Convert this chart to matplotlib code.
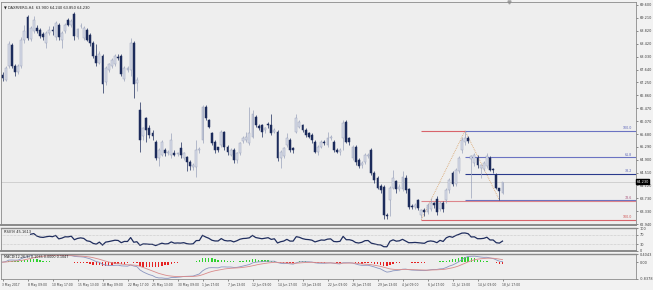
import numpy as np
import pandas as pd
import matplotlib
matplotlib.use("Agg")
import matplotlib.pyplot as plt
import matplotlib.transforms as mtransforms

# ---- data (H4 bars, 3 May 2017 13:00 .. 18 Jul 2017 17:00)
title = "\u25bc DAXM/ERG,H4  63.900 64.240 63.850 64.230"
rsi_title = "RSI(9) 45.1613"
macd_title = "MACD(12,26,9) 0.1035 0.0000 0.1047"

opens = [67.47, 67.32, 67.75, 68.39, 67.75, 67.57, 67.75, 68.55, 69.22, 68.57,
         68.80, 68.90, 68.84, 68.72, 68.45, 68.75, 68.85, 68.62, 69.00, 68.55,
         68.80, 69.14, 68.99, 69.33, 68.62, 68.95, 68.60, 68.85, 68.70, 68.45,
         68.05, 67.85, 68.05, 67.25, 67.62, 67.75, 67.80, 68.02, 68.05, 67.35,
         67.62, 67.62, 68.44, 67.22, 66.41, 65.62, 66.17, 65.86, 65.72, 65.44,
         64.95, 65.04, 65.20, 65.10, 65.04, 65.12, 65.08, 65.26, 64.95, 64.98,
         64.83, 64.68, 64.68, 65.20, 65.50, 66.50, 66.11, 65.71, 65.44, 65.28,
         65.35, 65.74, 65.30, 65.06, 65.20, 64.89, 65.10, 65.47, 65.50, 65.41,
         65.60, 66.20, 65.92, 65.96, 65.80, 66.00, 65.96, 65.75, 65.74, 64.95,
         65.00, 65.35, 65.50, 65.26, 65.74, 65.90, 65.96, 65.80, 65.70, 65.65,
         65.44, 65.14, 65.29, 65.44, 65.35, 65.56, 65.44, 65.20, 65.15, 65.56,
         66.05, 65.56, 64.95, 65.28, 64.89, 64.74, 64.83, 65.02, 65.20, 64.50,
         64.35, 64.10, 64.07, 63.22, 63.68, 64.04, 64.25, 64.00, 64.00, 64.35,
         64.00, 63.50, 63.48, 63.68, 63.22, 63.38, 63.30, 63.40, 63.58, 63.70,
         63.40, 63.58, 63.68, 63.98, 64.51, 64.17, 64.55, 65.20, 65.44, 65.56,
         64.92, 64.80, 64.95, 64.65, 64.62, 64.70, 64.95, 64.62, 64.44, 64.05,
         63.90]
highs = [67.55, 67.75, 68.50, 68.45, 67.80, 67.80, 68.62, 69.00, 69.30, 68.95,
         69.25, 69.00, 68.90, 68.78, 68.80, 68.95, 68.95, 69.12, 69.05, 68.80,
         69.05, 69.20, 69.18, 69.40, 68.90, 69.05, 68.95, 68.90, 68.75, 68.52,
         68.40, 68.20, 68.12, 67.75, 67.85, 68.00, 68.10, 68.10, 68.10, 67.75,
         67.75, 68.60, 68.50, 67.40, 66.65, 65.90, 66.20, 65.95, 65.80, 65.50,
         65.25, 65.50, 65.25, 65.20, 65.72, 65.20, 65.15, 65.44, 65.15, 65.00,
         64.90, 64.80, 65.50, 65.28, 66.55, 66.55, 66.15, 65.75, 65.50, 65.30,
         65.80, 65.78, 65.35, 65.25, 65.25, 65.15, 65.45, 65.62, 65.75, 66.50,
         66.40, 66.25, 66.00, 66.00, 65.90, 66.05, 66.30, 65.85, 65.80, 65.20,
         65.30, 65.70, 65.55, 65.30, 66.30, 66.10, 66.00, 65.85, 65.75, 65.70,
         65.50, 65.35, 65.50, 65.50, 65.75, 65.65, 65.50, 65.25, 65.25, 66.10,
         66.10, 65.60, 65.35, 65.35, 64.95, 64.85, 65.10, 65.10, 65.25, 64.55,
         64.40, 64.15, 64.12, 63.28, 64.10, 64.60, 64.30, 64.15, 64.55, 64.45,
         64.05, 63.55, 63.58, 63.72, 63.42, 63.45, 63.60, 63.75, 63.62, 63.80,
         63.65, 63.65, 64.05, 64.35, 64.55, 64.65, 65.00, 65.60, 65.78, 65.62,
         65.05, 65.10, 65.05, 64.75, 64.85, 65.10, 65.00, 64.65, 64.50, 64.05,
         64.24]
lows = [67.30, 67.28, 67.70, 67.70, 67.45, 67.50, 67.70, 68.45, 68.55, 68.50,
        68.75, 68.75, 68.60, 68.55, 68.30, 68.70, 68.70, 68.55, 68.55, 68.30,
        68.75, 68.95, 68.92, 68.55, 68.58, 68.90, 68.55, 68.50, 68.35, 68.00,
        67.75, 67.80, 66.93, 67.18, 67.55, 67.70, 67.75, 67.92, 67.45, 67.30,
        67.55, 67.45, 66.78, 67.00, 65.14, 65.50, 65.45, 65.55, 65.50, 64.90,
        64.70, 65.00, 65.00, 65.05, 64.95, 65.00, 65.00, 64.95, 64.90, 64.55,
        64.60, 64.60, 64.38, 65.10, 65.40, 66.10, 65.85, 65.35, 65.10, 65.15,
        65.30, 65.20, 65.05, 65.00, 64.80, 64.80, 65.05, 65.40, 65.45, 65.35,
        65.55, 65.90, 65.80, 65.60, 65.70, 65.85, 65.65, 65.70, 64.85, 64.65,
        64.95, 65.30, 65.15, 65.10, 65.70, 65.85, 65.75, 65.60, 65.55, 65.40,
        65.10, 65.05, 65.25, 65.35, 65.30, 65.50, 65.15, 65.10, 65.05, 65.20,
        65.40, 65.35, 64.90, 64.75, 64.65, 64.65, 64.78, 64.95, 64.45, 64.20,
        64.00, 63.90, 63.10, 63.10, 63.20, 64.00, 63.90, 63.95, 63.95, 63.90,
        63.40, 63.40, 63.42, 63.38, 63.12, 63.20, 63.25, 63.35, 63.45, 63.22,
        63.35, 63.32, 63.60, 63.90, 64.10, 64.10, 64.50, 65.10, 65.35, 65.40,
        63.74, 64.70, 64.65, 64.35, 64.55, 64.65, 64.55, 64.50, 64.00, 63.68,
        63.85]
closes = [67.38, 67.69, 68.40, 67.75, 67.57, 67.75, 68.55, 68.80, 68.60, 68.90,
          69.14, 68.82, 68.66, 68.62, 68.75, 68.85, 68.80, 69.05, 68.62, 68.75,
          69.00, 68.99, 69.12, 68.66, 68.87, 68.97, 68.90, 68.55, 68.45, 68.05,
          67.85, 68.10, 67.20, 67.70, 67.80, 67.93, 68.05, 68.00, 67.50, 67.70,
          67.68, 68.44, 67.20, 67.32, 65.50, 65.86, 65.80, 65.65, 65.63, 64.95,
          65.20, 65.44, 65.10, 65.15, 65.50, 65.06, 65.10, 65.05, 65.12, 64.83,
          64.70, 64.74, 65.20, 65.22, 66.50, 66.17, 65.90, 65.41, 65.20, 65.20,
          65.74, 65.29, 65.15, 65.20, 64.89, 65.10, 65.41, 65.56, 65.60, 65.70,
          66.30, 65.96, 65.86, 65.75, 65.85, 65.95, 65.70, 65.80, 64.95, 65.15,
          65.26, 65.56, 65.20, 65.20, 66.17, 66.05, 65.80, 65.65, 65.60, 65.50,
          65.14, 65.29, 65.44, 65.40, 65.56, 65.60, 65.20, 65.15, 65.20, 66.02,
          65.44, 65.44, 65.28, 64.83, 64.70, 64.80, 65.04, 65.06, 64.50, 64.29,
          64.05, 63.98, 63.22, 63.18, 64.04, 64.35, 64.00, 64.07, 64.38, 63.98,
          63.47, 63.48, 63.52, 63.45, 63.38, 63.30, 63.53, 63.60, 63.52, 63.30,
          63.58, 63.40, 63.98, 64.29, 64.17, 64.59, 64.95, 65.50, 65.56, 65.47,
          65.00, 65.04, 64.74, 64.74, 64.80, 65.00, 64.59, 64.59, 64.05, 63.95,
          64.23]

bid = 64.230
price_ticks = ["69.600", "69.210", "68.820", "68.420", "68.030", "67.640", "67.250",
               "66.860", "66.470", "66.070", "65.680", "65.290", "64.900", "64.510",
               "64.120", "63.730", "63.330", "62.940"]
rsi_ticks = ["100", "70", "30", "0"]
rsi_levels = [70, 30]
macd_ticks = ["0.4043", "0.00", "-0.8378"]
time_labels = ["3 May 2017", "8 May 09:00", "10 May 17:00", "15 May 13:00", "18 May 09:00",
               "22 May 17:00", "25 May 13:00", "30 May 09:00", "1 Jun 17:00", "7 Jun 13:00",
               "12 Jun 09:00", "14 Jun 17:00", "19 Jun 13:00", "22 Jun 09:00", "26 Jun 17:00",
               "29 Jun 13:00", "4 Jul 09:00", "6 Jul 17:00", "11 Jul 13:00", "14 Jul 09:00",
               "18 Jul 17:00"]
label_step = 8

# fibonacci objects: (bar, price) anchors
fib_red = ((134, 63.08), (148, 65.78))
fib_red_levels = [0.0, 78.6, 100.0]
fib_red_text = {78.6: "78.6", 100.0: "100.0"}
fib_blue = ((148, 65.78), (159, 63.68))
fib_blue_levels = [100.0, 61.8, 38.2, 0.0]
fib_blue_text = {100.0: "100.0", 61.8: "61.8", 38.2: "38.2"}

# ---- indicators
close_s = pd.Series(closes)
delta = close_s.diff()
gain = delta.clip(lower=0)
loss = -delta.clip(upper=0)
avg_gain = gain.ewm(alpha=1 / 9, adjust=True, min_periods=9).mean()
avg_loss = loss.ewm(alpha=1 / 9, adjust=True, min_periods=9).mean()
rsi = 100 - 100 / (1 + avg_gain / avg_loss)

ema_fast = close_s.ewm(span=12, adjust=False).mean()
ema_slow = close_s.ewm(span=26, adjust=False).mean()
macd = ema_fast - ema_slow
signal = macd.ewm(span=9, adjust=False).mean()
hist = macd - signal

# ---- layout (pixel boxes of the MT4 window)
W, H = 653, 290
BAR_PX = 3.125
FIRST_BAR_PX = 2.5


def box(x0, y0, x1, y1):
    return [x0 / W, 1 - y1 / H, (x1 - x0) / W, (y1 - y0) / H]


BG = "#eeeeee"
SPINE = "#8a8a8a"
TXT = "#3c3c3c"
FS = 2.5
BULL_FACE, BULL_EDGE = "#d9dde8", "#9aa2bb"
BEAR = "#1c2b5b"

fig = plt.figure(figsize=(W / 100, H / 100), dpi=100, facecolor="#f2f2f2")
ax = fig.add_axes(box(1, 2, 636, 225))
ax_rsi = fig.add_axes(box(1, 228, 636, 251), sharex=ax)
ax_macd = fig.add_axes(box(1, 254, 636, 279), sharex=ax)

x_left = (1 - FIRST_BAR_PX) / BAR_PX
x_right = (636 - FIRST_BAR_PX) / BAR_PX

for a in (ax, ax_rsi, ax_macd):
    a.set_facecolor(BG)
    for s in a.spines.values():
        s.set_color(SPINE)
        s.set_linewidth(0.6)
    a.yaxis.tick_right()
    a.tick_params(axis="y", length=1.5, width=0.4, pad=1, labelsize=FS,
                  colors=TXT, direction="out")
    a.tick_params(axis="x", bottom=False, labelbottom=False)
ax.spines["bottom"].set_linewidth(1.4)
ax_rsi.spines["bottom"].set_linewidth(1.4)
ax_rsi.spines["top"].set_linewidth(1.0)
ax_macd.spines["top"].set_linewidth(1.0)

# ---- candles
x = np.arange(len(closes))
o = np.array(opens)
h = np.array(highs)
l = np.array(lows)
c = np.array(closes)
up = c >= o
ax.vlines(x[up], l[up], h[up], color=BULL_EDGE, lw=0.5, zorder=3)
ax.vlines(x[~up], l[~up], h[~up], color=BEAR, lw=0.5, zorder=3)
body_lo = np.minimum(o, c)
body_h = np.maximum(np.abs(c - o), 0.012)
ax.bar(x[up], body_h[up], bottom=body_lo[up], width=0.62,
       color=BULL_FACE, edgecolor=BULL_EDGE, linewidth=0.35, zorder=4)
ax.bar(x[~up], body_h[~up], bottom=body_lo[~up], width=0.62,
       color=BEAR, edgecolor=BEAR, linewidth=0.35, zorder=4)

ax.set_xlim(x_left, x_right)
ax.set_ylim(62.92, 69.69)
ax.set_yticks([float(t) for t in price_ticks])
ax.set_yticklabels(price_ticks)

# bid line and box
ax.axhline(bid, color="#c4c4c4", lw=0.5, zorder=1)
ax.text(1.001, bid, f"{bid:.3f}", transform=ax.get_yaxis_transform(),
        fontsize=FS, color="white", va="center", ha="left",
        bbox=dict(boxstyle="square,pad=0.12", fc="black", ec="black"))

# fibonacci retracements
(b0x, b0y), (b1x, b1y) = fib_blue
rng = b0y - b1y
for lv in fib_blue_levels:
    yv = b1y + rng * lv / 100.0
    col = "#2a3a8c" if lv == 38.2 else "#6b73c2"
    ax.hlines(yv, b0x, x_right, color=col, lw=0.8, zorder=2.2)
    if lv in fib_blue_text:
        ax.text(x_right - 1.2, yv + 0.02, fib_blue_text[lv], fontsize=2.3,
                color="#5a63b8", ha="right", va="bottom")
ax.plot([b0x, b1x], [b0y, b1y], color="#d9a36a", lw=0.6, ls=(0, (1, 1.2)), zorder=2)

(r0x, r0y), (r1x, r1y) = fib_red
rng = r1y - r0y
for lv in fib_red_levels:
    yv = r1y - rng * lv / 100.0
    # the zero level sits under the blue 100 level; others stay on top
    if lv == 0.0:
        ax.hlines(yv, r0x, b0x, color="#d8636b", lw=0.8, zorder=2.1)
    else:
        ax.hlines(yv, r0x, x_right, color="#d8636b", lw=0.8, zorder=2.3,
                  alpha=0.75 if lv == 78.6 else 1.0)
    if lv in fib_red_text:
        ax.text(x_right - 1.2, yv + 0.02, fib_red_text[lv], fontsize=2.3,
                color="#a8507a" if lv == 78.6 else "#d05050", ha="right", va="bottom")
ax.plot([r0x, r1x], [r0y, r1y], color="#d9a36a", lw=0.6, ls=(0, (1, 1.2)), zorder=2)

# chart shift marker
ax.plot([162], [1.0], marker="v", ms=2.2, color="#a0a0a0",
        transform=mtransforms.blended_transform_factory(ax.transData, ax.transAxes),
        clip_on=False)

ax.text(0.004, 0.985, title, transform=ax.transAxes, fontsize=2.6, color="#202020",
        ha="left", va="top")

# ---- RSI
ax_rsi.plot(x, rsi, color="#1f2d5e", lw=0.9)
for lv in rsi_levels:
    ax_rsi.axhline(lv, color="#a8a8a8", lw=0.4, ls=(0, (1, 1.5)))
ax_rsi.set_ylim(0, 100)
ax_rsi.set_yticks([float(t) for t in rsi_ticks])
ax_rsi.set_yticklabels(rsi_ticks)
ax_rsi.text(0.004, 0.93, rsi_title, transform=ax_rsi.transAxes, fontsize=2.6,
            color="#202020", ha="left", va="top")

# ---- MACD
hcol = np.where(hist.values >= 0, "#2fd12f", "#e52222")
ax_macd.bar(x, hist.values, width=0.45, color=hcol, linewidth=0)
ax_macd.plot(x, macd, color="#8a95bf", lw=0.6)
ax_macd.plot(x, signal, color="#d98a8a", lw=0.6)
ax_macd.set_ylim(float(macd_ticks[2]), float(macd_ticks[0]))
ax_macd.set_yticks([float(t) for t in macd_ticks])
ax_macd.set_yticklabels(macd_ticks)
ax_macd.text(0.004, 0.95, macd_title, transform=ax_macd.transAxes, fontsize=2.4,
             color="#202020", ha="left", va="top")

# time axis
ticks_at = np.arange(0, len(time_labels) * label_step, label_step)
ax_macd.tick_params(axis="x", bottom=True, labelbottom=True, length=1.5, width=0.4,
                    pad=1.2, labelsize=2.2, colors=TXT)
ax_macd.set_xticks(ticks_at)
ax_macd.set_xticklabels(time_labels, ha="left")
ax_macd.set_xlim(x_left, x_right)

fig.savefig("out.png", dpi=100, facecolor=fig.get_facecolor())
